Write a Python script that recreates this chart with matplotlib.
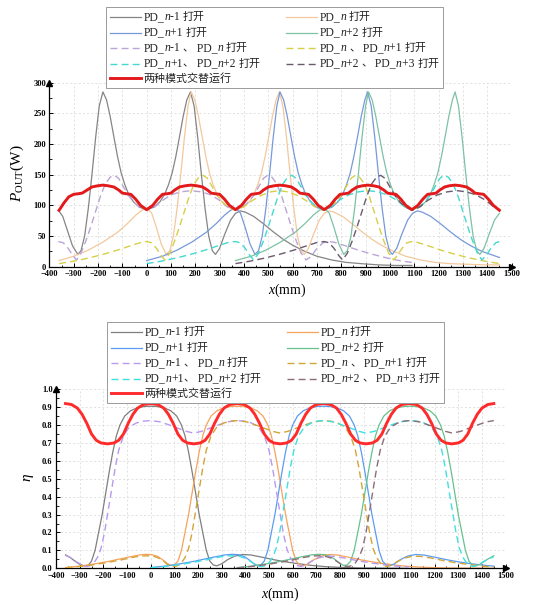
import numpy as np
import matplotlib
matplotlib.use("Agg")
import matplotlib.pyplot as plt
from matplotlib.lines import Line2D
from matplotlib.offsetbox import AnchoredOffsetbox, DrawingArea, HPacker, TextArea, VPacker

plt.rcParams["font.family"] = ["Liberation Serif", "Noto Sans CJK SC"]
plt.rcParams["mathtext.fontset"] = "custom"
plt.rcParams["mathtext.rm"] = "Liberation Serif"
plt.rcParams["mathtext.it"] = "Liberation Serif:italic"
plt.rcParams["mathtext.bf"] = "Liberation Serif:bold"

# ---------------- output power P_OUT (W) ----------------
# single pad on
pg_x = [-363, -345, -325, -305, -283, -270, -255, -240, -225, -210, -195, -180, -165, -150, -135, -120, -105, -90, -75, -55,
        -30, 0, 30, 55, 75, 90, 105, 120, 135, 150, 165, 180, 195, 210, 225, 240, 255, 270, 283, 300,
        320, 345, 365, 385, 405, 440, 480, 520, 560, 600, 650, 700, 760, 820, 880, 950, 1020, 1090]
pg_y = [92, 82, 58, 34, 20, 26, 50, 95, 150, 210, 262, 285, 272, 245, 212, 180, 153, 134, 119, 106,
        97, 93, 97, 106, 119, 134, 153, 180, 212, 245, 272, 285, 262, 210, 150, 95, 50, 26, 20, 30,
        52, 76, 87, 91, 89, 82, 70, 57, 45, 35, 25, 17, 11, 7, 5, 3, 2, 2]
po_x = [-360, -300, -240, -180, -120, -80, -45, -20, 0, 20, 40, 60, 80, 95, 110, 125, 140, 155, 170, 183,
        198, 213, 228, 243, 258, 273, 288, 308, 333, 365, 397, 422, 442, 457, 472, 487, 502, 517, 532, 545,
        560, 575, 590, 605, 620, 635, 648, 665, 685, 710, 730, 750, 770, 805, 845, 885, 925, 965, 1015, 1065,
        1125, 1185, 1245, 1315, 1385, 1450]
po_y = [10, 17, 27, 40, 56, 70, 84, 92, 95, 88, 64, 37, 20, 26, 50, 95, 150, 210, 262, 285,
        272, 245, 212, 180, 153, 134, 119, 106, 97, 93, 97, 106, 119, 134, 153, 180, 212, 245, 272, 285,
        262, 210, 150, 95, 50, 26, 20, 30, 52, 76, 87, 91, 89, 82, 70, 57, 45, 35, 25, 17,
        11, 7, 5, 4, 3, 3]
pb_x = [0, 65, 125, 185, 245, 285, 320, 345, 365, 385, 405, 425, 445, 460, 475, 490, 505, 520, 535, 548,
        563, 578, 593, 608, 623, 638, 653, 673, 698, 730, 762, 787, 807, 822, 837, 852, 867, 882, 897, 908,
        923, 938, 953, 968, 983, 998, 1010, 1028, 1048, 1073, 1093, 1113, 1133, 1168, 1208, 1248, 1288, 1328, 1378, 1450]
pb_y = [10, 17, 27, 40, 56, 70, 84, 92, 95, 88, 64, 37, 20, 26, 50, 95, 150, 210, 262, 285,
        272, 245, 212, 180, 153, 134, 119, 106, 97, 93, 97, 106, 119, 134, 153, 180, 212, 245, 272, 285,
        262, 210, 150, 95, 50, 26, 20, 30, 52, 76, 87, 91, 89, 82, 70, 57, 45, 35, 25, 15]
pgr_x = [365, 430, 490, 550, 610, 650, 685, 710, 730, 750, 770, 790, 810, 825, 840, 855, 870, 885, 900, 912,
         927, 942, 957, 972, 987, 1002, 1017, 1037, 1062, 1092, 1122, 1147, 1167, 1182, 1197, 1212, 1227, 1242, 1257, 1268,
         1282, 1297, 1312, 1327, 1342, 1357, 1370, 1387, 1407, 1430, 1450]
pgr_y = [10, 17, 27, 40, 56, 70, 84, 92, 95, 88, 64, 37, 20, 26, 50, 95, 150, 210, 262, 285,
         272, 245, 212, 180, 153, 134, 119, 106, 97, 93, 97, 106, 119, 134, 153, 180, 212, 245, 272, 285,
         262, 210, 150, 95, 50, 26, 20, 30, 52, 76, 87]
# two neighbouring pads on
pp_x = [-363, -343, -323, -303, -288, -270, -250, -230, -210, -190, -170, -150, -133, -115, -95, -75, -50, -25, 0, 35,
        65, 100, 140, 182, 225, 265, 300, 330, 365, 390, 415, 440, 460, 480, 497, 515, 535, 555, 575, 595,
        615, 635, 655, 675, 700, 725, 745, 770, 810, 870, 930, 990, 1050, 1090]
pp_y = [41, 39, 30, 18, 11, 22, 42, 65, 90, 115, 135, 146, 149, 144, 130, 116, 104, 96, 92, 98,
        108, 117, 122, 124, 122, 117, 108, 98, 92, 96, 104, 116, 130, 144, 149, 146, 135, 115, 90, 65,
        42, 22, 11, 16, 30, 39, 41, 40, 35, 27, 20, 14, 9, 7]
py_x = [-360, -300, -240, -180, -120, -60, -20, 0, 20, 40, 60, 75, 95, 115, 135, 155, 175, 195, 215, 232,
        250, 270, 290, 315, 340, 365, 400, 435, 475, 510, 545, 580, 615, 655, 690, 725, 750, 775, 800, 820,
        840, 858, 875, 895, 915, 935, 955, 975, 995, 1015, 1030, 1050, 1070, 1090, 1110, 1150, 1210, 1270, 1330, 1390,
        1450]
py_y = [5, 9, 14, 20, 27, 35, 40, 41, 39, 30, 18, 11, 22, 42, 65, 90, 115, 135, 146, 149,
        144, 130, 116, 104, 96, 92, 98, 108, 117, 122, 124, 122, 117, 108, 98, 92, 96, 104, 116, 130,
        144, 149, 146, 135, 115, 90, 65, 42, 22, 11, 18, 30, 39, 41, 40, 35, 27, 20, 14, 9,
        5]
pc_x = [0, 60, 120, 180, 240, 300, 340, 365, 385, 405, 425, 440, 460, 480, 500, 520, 540, 560, 580, 597,
        615, 635, 655, 680, 705, 730, 760, 790, 830, 870, 910, 950, 990, 1030, 1060, 1090, 1115, 1140, 1165, 1185,
        1205, 1222, 1240, 1260, 1280, 1300, 1320, 1340, 1360, 1378, 1395, 1415, 1435, 1450]
pc_y = [5, 9, 14, 20, 27, 35, 40, 41, 39, 30, 18, 11, 22, 42, 65, 90, 115, 135, 146, 149,
        144, 130, 116, 104, 96, 92, 98, 108, 117, 122, 124, 122, 117, 108, 98, 92, 96, 104, 116, 130,
        144, 149, 146, 135, 115, 90, 65, 42, 22, 11, 18, 30, 39, 41]
pd_x = [365, 425, 485, 545, 605, 665, 705, 730, 750, 770, 790, 805, 825, 845, 865, 885, 905, 925, 945, 962,
        980, 1000, 1020, 1045, 1070, 1095, 1125, 1155, 1195, 1235, 1275, 1315, 1355, 1395, 1425, 1450]
pd_y = [5, 9, 14, 20, 27, 35, 40, 41, 39, 30, 18, 11, 22, 42, 65, 90, 115, 135, 146, 149,
        144, 130, 116, 104, 96, 92, 98, 108, 117, 122, 124, 122, 117, 108, 98, 93]
# alternating operation
pr_x = [-360, -340, -320, -300, -280, -265, -245, -225, -200, -180, -160, -135, -115, -100, -85, -65, -45, -25, 0, 25,
        45, 65, 85, 100, 115, 135, 160, 182, 205, 230, 250, 265, 280, 300, 320, 340, 365, 390, 410, 430,
        450, 465, 480, 500, 525, 547, 570, 595, 615, 630, 645, 665, 685, 705, 730, 755, 775, 795, 815, 830,
        845, 865, 888, 910, 932, 955, 975, 990, 1005, 1025, 1045, 1065, 1090, 1115, 1135, 1155, 1175, 1190, 1205, 1225,
        1245, 1268, 1290, 1315, 1335, 1350, 1365, 1385, 1405, 1425, 1450]
pr_y = [92, 104, 114, 118, 119, 120, 125, 130, 132, 133, 132, 130, 125, 120, 119, 118, 110, 100, 93, 100,
        110, 118, 119, 120, 125, 130, 132, 133, 132, 130, 125, 120, 119, 118, 110, 100, 93, 100, 110, 118,
        119, 120, 125, 130, 132, 133, 132, 130, 125, 120, 119, 118, 110, 100, 93, 100, 110, 118, 119, 120,
        125, 130, 132, 133, 132, 130, 125, 120, 119, 118, 110, 100, 93, 100, 110, 118, 119, 120, 125, 130,
        132, 133, 132, 130, 125, 120, 119, 118, 110, 100, 92]

# ---------------- efficiency eta ----------------
eg_x = [-360, -340, -320, -300, -280, -265, -250, -235, -220, -205, -190, -175, -160, -145, -130, -110, -85, -55, -25, 0,
        25, 55, 85, 110, 130, 145, 160, 175, 190, 205, 220, 235, 250, 265, 280, 300, 325, 355, 390, 425,
        470, 520, 570, 620, 680, 740, 800, 880, 960, 1090]
eg_y = [0.075, 0.06, 0.04, 0.022, 0.013, 0.015, 0.04, 0.1, 0.2, 0.3, 0.42, 0.54, 0.65, 0.74, 0.8, 0.85, 0.88, 0.897, 0.904, 0.905,
        0.904, 0.897, 0.88, 0.85, 0.8, 0.74, 0.65, 0.54, 0.42, 0.3, 0.2, 0.1, 0.04, 0.018, 0.014, 0.025, 0.048, 0.068, 0.077, 0.074,
        0.062, 0.048, 0.036, 0.026, 0.016, 0.009, 0.005, 0.002, 0.001, 0.0]
eo_x = [-360, -300, -240, -180, -120, -80, -45, -20, 5, 30, 50, 70, 85, 100, 115, 130, 145, 160, 175, 190,
        205, 220, 235, 255, 280, 310, 340, 365, 390, 420, 450, 475, 495, 510, 525, 540, 555, 570, 585, 600,
        615, 630, 645, 665, 690, 720, 755, 790, 835, 885, 935, 985, 1045, 1105, 1165, 1245, 1325, 1450]
eo_y = [0.004, 0.012, 0.024, 0.038, 0.055, 0.066, 0.075, 0.078, 0.076, 0.066, 0.048, 0.027, 0.016, 0.018, 0.04, 0.1, 0.2, 0.3, 0.42, 0.54,
        0.65, 0.74, 0.8, 0.85, 0.88, 0.897, 0.904, 0.905, 0.904, 0.897, 0.88, 0.85, 0.8, 0.74, 0.65, 0.54, 0.42, 0.3, 0.2, 0.1,
        0.04, 0.018, 0.014, 0.025, 0.048, 0.068, 0.077, 0.074, 0.062, 0.048, 0.036, 0.026, 0.016, 0.009, 0.005, 0.002, 0.001, 0.0]
eb_x = [0, 60, 120, 180, 240, 280, 315, 345, 370, 395, 415, 435, 450, 465, 480, 495, 510, 525, 540, 555,
        570, 585, 600, 620, 645, 675, 705, 730, 755, 785, 815, 840, 860, 875, 890, 905, 920, 935, 950, 965,
        980, 995, 1010, 1030, 1055, 1085, 1120, 1155, 1200, 1250, 1300, 1350, 1400, 1450]
eb_y = [0.004, 0.012, 0.024, 0.038, 0.055, 0.066, 0.075, 0.078, 0.076, 0.066, 0.048, 0.027, 0.016, 0.018, 0.04, 0.1, 0.2, 0.3, 0.42, 0.54,
        0.65, 0.74, 0.8, 0.85, 0.88, 0.897, 0.904, 0.905, 0.904, 0.897, 0.88, 0.85, 0.8, 0.74, 0.65, 0.54, 0.42, 0.3, 0.2, 0.1,
        0.04, 0.018, 0.014, 0.025, 0.048, 0.068, 0.077, 0.074, 0.062, 0.048, 0.036, 0.026, 0.018, 0.012]
egr_x = [365, 425, 485, 545, 605, 645, 680, 710, 735, 760, 780, 800, 815, 830, 845, 860, 875, 890, 905, 920,
         935, 950, 965, 985, 1010, 1040, 1070, 1095, 1120, 1150, 1180, 1205, 1225, 1240, 1255, 1270, 1285, 1300, 1315, 1330,
         1345, 1360, 1375, 1395, 1420, 1450]
egr_y = [0.004, 0.012, 0.024, 0.038, 0.055, 0.066, 0.075, 0.078, 0.076, 0.066, 0.048, 0.027, 0.016, 0.018, 0.04, 0.1, 0.2, 0.3, 0.42, 0.54,
         0.65, 0.74, 0.8, 0.85, 0.88, 0.897, 0.904, 0.905, 0.904, 0.897, 0.88, 0.85, 0.8, 0.74, 0.65, 0.54, 0.42, 0.3, 0.2, 0.1,
         0.04, 0.018, 0.014, 0.025, 0.048, 0.07]
ep_x = [-360, -340, -320, -300, -285, -270, -255, -240, -225, -210, -195, -180, -165, -150, -135, -115, -90, -60, -30, 0,
        40, 80, 120, 150, 182, 215, 245, 285, 325, 365, 395, 425, 455, 480, 500, 515, 530, 545, 560, 575,
        590, 605, 620, 635, 655, 680, 710, 745, 780, 825, 875, 930, 985, 1040, 1090]
ep_y = [0.072, 0.06, 0.042, 0.025, 0.015, 0.01, 0.015, 0.03, 0.06, 0.11, 0.2, 0.32, 0.44, 0.56, 0.66, 0.74, 0.79, 0.812, 0.822, 0.825,
        0.818, 0.8, 0.78, 0.765, 0.755, 0.765, 0.78, 0.8, 0.818, 0.825, 0.822, 0.812, 0.79, 0.74, 0.66, 0.56, 0.44, 0.32, 0.2, 0.11,
        0.06, 0.03, 0.015, 0.01, 0.02, 0.04, 0.058, 0.068, 0.066, 0.056, 0.042, 0.03, 0.02, 0.012, 0.007]
ey_x = [-360, -300, -240, -180, -120, -80, -45, -15, 15, 35, 55, 70, 85, 100, 115, 130, 145, 160, 175, 190,
        205, 220, 235, 255, 280, 310, 340, 365, 405, 445, 485, 515, 547, 580, 610, 650, 690, 730, 760, 790,
        820, 845, 865, 880, 895, 910, 925, 940, 955, 970, 985, 1000, 1020, 1045, 1075, 1110, 1145, 1190, 1240, 1295,
        1350, 1400, 1450]
ey_y = [0.003, 0.01, 0.02, 0.033, 0.048, 0.06, 0.068, 0.07, 0.066, 0.056, 0.04, 0.022, 0.012, 0.01, 0.015, 0.03, 0.06, 0.11, 0.2, 0.32,
        0.44, 0.56, 0.66, 0.74, 0.79, 0.812, 0.822, 0.825, 0.818, 0.8, 0.78, 0.765, 0.755, 0.765, 0.78, 0.8, 0.818, 0.825, 0.822, 0.812,
        0.79, 0.74, 0.66, 0.56, 0.44, 0.32, 0.2, 0.11, 0.06, 0.03, 0.015, 0.01, 0.02, 0.04, 0.058, 0.068, 0.066, 0.056, 0.042, 0.03,
        0.02, 0.012, 0.007]
ec_x = [0, 60, 120, 180, 240, 280, 315, 345, 375, 400, 420, 440, 455, 470, 485, 500, 515, 530, 545, 560,
        575, 590, 605, 625, 650, 680, 705, 730, 770, 810, 850, 880, 910, 945, 975, 1015, 1055, 1092, 1125, 1155,
        1185, 1210, 1230, 1245, 1260, 1275, 1290, 1305, 1320, 1335, 1350, 1365, 1385, 1410, 1450]
ec_y = [0.003, 0.01, 0.02, 0.033, 0.048, 0.06, 0.068, 0.07, 0.066, 0.056, 0.04, 0.022, 0.012, 0.01, 0.015, 0.03, 0.06, 0.11, 0.2, 0.32,
        0.44, 0.56, 0.66, 0.74, 0.79, 0.812, 0.822, 0.825, 0.818, 0.8, 0.78, 0.765, 0.755, 0.765, 0.78, 0.8, 0.818, 0.825, 0.822, 0.812,
        0.79, 0.74, 0.66, 0.56, 0.44, 0.32, 0.2, 0.11, 0.06, 0.03, 0.015, 0.01, 0.02, 0.04, 0.065]
ed_x = [365, 425, 485, 545, 605, 645, 680, 710, 740, 765, 785, 805, 820, 835, 850, 865, 880, 895, 910, 925,
        940, 955, 970, 990, 1015, 1045, 1070, 1095, 1135, 1175, 1215, 1245, 1275, 1310, 1340, 1380, 1420, 1450]
ed_y = [0.002, 0.01, 0.02, 0.033, 0.048, 0.06, 0.068, 0.07, 0.066, 0.056, 0.04, 0.022, 0.012, 0.01, 0.015, 0.03, 0.06, 0.11, 0.2, 0.32,
        0.44, 0.56, 0.66, 0.74, 0.79, 0.812, 0.822, 0.825, 0.818, 0.8, 0.78, 0.765, 0.755, 0.765, 0.78, 0.8, 0.818, 0.825]
er_x = [-360, -335, -310, -290, -270, -250, -230, -210, -182, -155, -135, -115, -95, -75, -55, -30, 0, 30, 55, 75,
        95, 115, 135, 155, 182, 210, 230, 250, 270, 290, 310, 335, 365, 395, 420, 440, 460, 480, 500, 520,
        547, 575, 595, 615, 635, 655, 675, 700, 730, 760, 785, 805, 825, 845, 865, 885, 910, 937, 957, 977,
        997, 1017, 1037, 1062, 1092, 1122, 1147, 1167, 1187, 1207, 1227, 1247, 1272, 1300, 1320, 1340, 1360, 1380, 1400, 1425,
        1450]
er_y = [0.92, 0.915, 0.895, 0.86, 0.81, 0.75, 0.715, 0.70, 0.695, 0.70, 0.715, 0.75, 0.81, 0.86, 0.895, 0.915, 0.92, 0.915, 0.895, 0.86,
        0.81, 0.75, 0.715, 0.70, 0.695, 0.70, 0.715, 0.75, 0.81, 0.86, 0.895, 0.915, 0.92, 0.915, 0.895, 0.86, 0.81, 0.75, 0.715, 0.70,
        0.695, 0.70, 0.715, 0.75, 0.81, 0.86, 0.895, 0.915, 0.92, 0.915, 0.895, 0.86, 0.81, 0.75, 0.715, 0.70, 0.695, 0.70, 0.715, 0.75,
        0.81, 0.86, 0.895, 0.915, 0.92, 0.915, 0.895, 0.86, 0.81, 0.75, 0.715, 0.70, 0.695, 0.70, 0.715, 0.75, 0.81, 0.86, 0.895, 0.915,
        0.92]

labels = ["PD_{n}-1 打开", "PD_{n} 打开", "PD_{n}+1 打开", "PD_{n}+2 打开",
          "PD_{n}-1 、 PD_{n} 打开", "PD_{n} 、 PD_{n}+1 打开",
          "PD_{n}+1、 PD_{n}+2 打开", "PD_{n}+2 、 PD_{n}+3 打开",
          "两种模式交替运行"]

top_colors = ["#858585", "#f3c89c", "#7799d9", "#7cc2a4",
              "#bba5d6", "#d6cf47", "#44d9cf", "#6a5a6e", "#e31a1c"]
bot_colors = ["#7f7f7f", "#f7a35c", "#5b9cf2", "#66c28d",
              "#b899f0", "#d3a437", "#3fe0e0", "#8b6d77", "#ff2b2b"]

top_series = [(pg_x, pg_y), (po_x, po_y), (pb_x, pb_y), (pgr_x, pgr_y),
              (pp_x, pp_y), (py_x, py_y), (pc_x, pc_y), (pd_x, pd_y), (pr_x, pr_y)]
bot_series = [(eg_x, eg_y), (eo_x, eo_y), (eb_x, eb_y), (egr_x, egr_y),
              (ep_x, ep_y), (ey_x, ey_y), (ec_x, ec_y), (ed_x, ed_y), (er_x, er_y)]

SOLID_LW, DASH_LW, RED_LW = 0.9, 1.0, 2.1
DASHES = (5, 3)
COL2_OFFSET_PX = 176   # distance between the two legend columns


def line_kw(i, color):
    if i < 4:
        return dict(color=color, lw=SOLID_LW, ls="-")
    if i < 8:
        return dict(color=color, lw=DASH_LW, ls=(0, DASHES))
    return dict(color=color, lw=RED_LW, ls="-")


def style_axes(ax, ymax, ymajor, yminor, fmt):
    ax.set_xlim(-400, 1500)
    ax.set_ylim(0, ymax)
    for s in ("top", "right"):
        ax.spines[s].set_visible(False)
    for s in ("left", "bottom"):
        ax.spines[s].set_linewidth(0.9)
    ax.set_xticks(np.arange(-400, 1501, 100))
    ax.set_xticks(np.arange(-400, 1501, 50), minor=True)
    ax.set_yticks(np.arange(0, ymax + ymajor / 2, ymajor))
    ax.set_yticks(np.arange(0, ymax + yminor / 2, yminor), minor=True)
    ax.yaxis.set_major_formatter(plt.FormatStrFormatter(fmt))
    ax.tick_params(which="major", direction="in", length=3, width=0.7, labelsize=6, pad=2.5)
    ax.tick_params(which="minor", direction="in", length=1.8, width=0.6)
    for lab in ax.get_xticklabels() + ax.get_yticklabels():
        lab.set_fontweight("bold")
    ax.grid(True, which="major", color="#d6d6d6", ls=(0, (3, 3)), lw=0.5)
    ax.set_axisbelow(True)
    ax.plot([1], [0], marker=">", color="k", ms=4.5, transform=ax.transAxes, clip_on=False)
    ax.plot([0], [1], marker="^", color="k", ms=4.5, transform=ax.transAxes, clip_on=False)


def split_runs(label):
    out, italic = [], False
    for ch in label:
        if ch == "{":
            italic = True
            continue
        if ch == "}":
            italic = False
            continue
        kind = "cjk" if ord(ch) >= 0x3000 else ("it" if italic else "rm")
        if out and out[-1][1] == kind:
            out[-1][0] += ch
        else:
            out.append([ch, kind])
    return out


text_style = {"rm": dict(family="Liberation Serif", size=8.4),
              "it": dict(family="Liberation Serif", style="italic", size=8.4),
              "cjk": dict(family="Noto Sans CJK SC", size=7.9)}


def legend_entry(i, label, color):
    da = DrawingArea(22, 6, 0, 0)
    da.add_artist(Line2D([0, 22], [3, 3], **line_kw(i, color)))
    parts = [TextArea(t, textprops=dict(color="#222222", **text_style[k]))
             for t, k in split_runs(label)]
    text = HPacker(children=parts, align="baseline", pad=0, sep=0)
    return HPacker(children=[da, text], align="center", pad=0, sep=2)


def add_legend(fig, anchor, colors):
    entries = [legend_entry(i, lab, c) for i, (lab, c) in enumerate(zip(labels, colors))]
    col1 = VPacker(children=[entries[i] for i in (0, 2, 4, 6, 8)], align="left", pad=0, sep=2.5)
    col2 = VPacker(children=[entries[i] for i in (1, 3, 5, 7)], align="left", pad=0, sep=2.5)
    body = HPacker(children=[col1, col2], align="top", pad=0, sep=10)
    box = AnchoredOffsetbox(loc="upper left", child=body, pad=0.35, borderpad=0, frameon=True,
                            bbox_to_anchor=anchor, bbox_transform=fig.transFigure,
                            prop=dict(size=8.5))
    box.patch.set_boxstyle("square", pad=0)
    box.patch.set_edgecolor("#9a9a9a")
    box.patch.set_linewidth(0.7)
    box.set_zorder(10)
    fig.add_artist(box)
    return col1, body


fig = plt.figure(figsize=(5.45, 6.05), dpi=100)
ax1 = fig.add_axes([0.0906, 0.5592, 0.848, 0.3041])
ax2 = fig.add_axes([0.1028, 0.0607, 0.825, 0.2959])

for ax, series, colors in ((ax1, top_series, top_colors), (ax2, bot_series, bot_colors)):
    for i, ((x, y), c) in enumerate(zip(series, colors)):
        ax.plot(x, y, zorder=2 + (i >= 4) + (i == 8), **line_kw(i, c))

style_axes(ax1, 300, 50, 25, "%d")
style_axes(ax2, 1.0, 0.1, 0.05, "%.1f")

fig.text(0.031, 0.714, r"$P_{\mathrm{OUT}}\mathrm{(W)}$", rotation=90, ha="center", va="center", fontsize=11)
fig.text(287 / 545, 1 - 290 / 605, r"$x\mathrm{(mm)}$", ha="center", va="center", fontsize=10)
fig.text(0.053, 0.21, r"$\eta$", rotation=90, ha="center", va="center", fontsize=11)
fig.text(280 / 545, 1 - 594 / 605, r"$x\mathrm{(mm)}$", ha="center", va="center", fontsize=10)

legends = [add_legend(fig, (106 / 545, 1 - 7 / 605), top_colors),
           add_legend(fig, (107 / 545, 1 - 322 / 605), bot_colors)]

# line the second legend column up at a fixed offset from the first
fig.canvas.draw()
renderer = fig.canvas.get_renderer()
for col1, body in legends:
    w = col1.get_bbox(renderer).width
    body.sep = (COL2_OFFSET_PX - w) * 72 / fig.dpi

fig.savefig("out.png", dpi=100, facecolor="white")
